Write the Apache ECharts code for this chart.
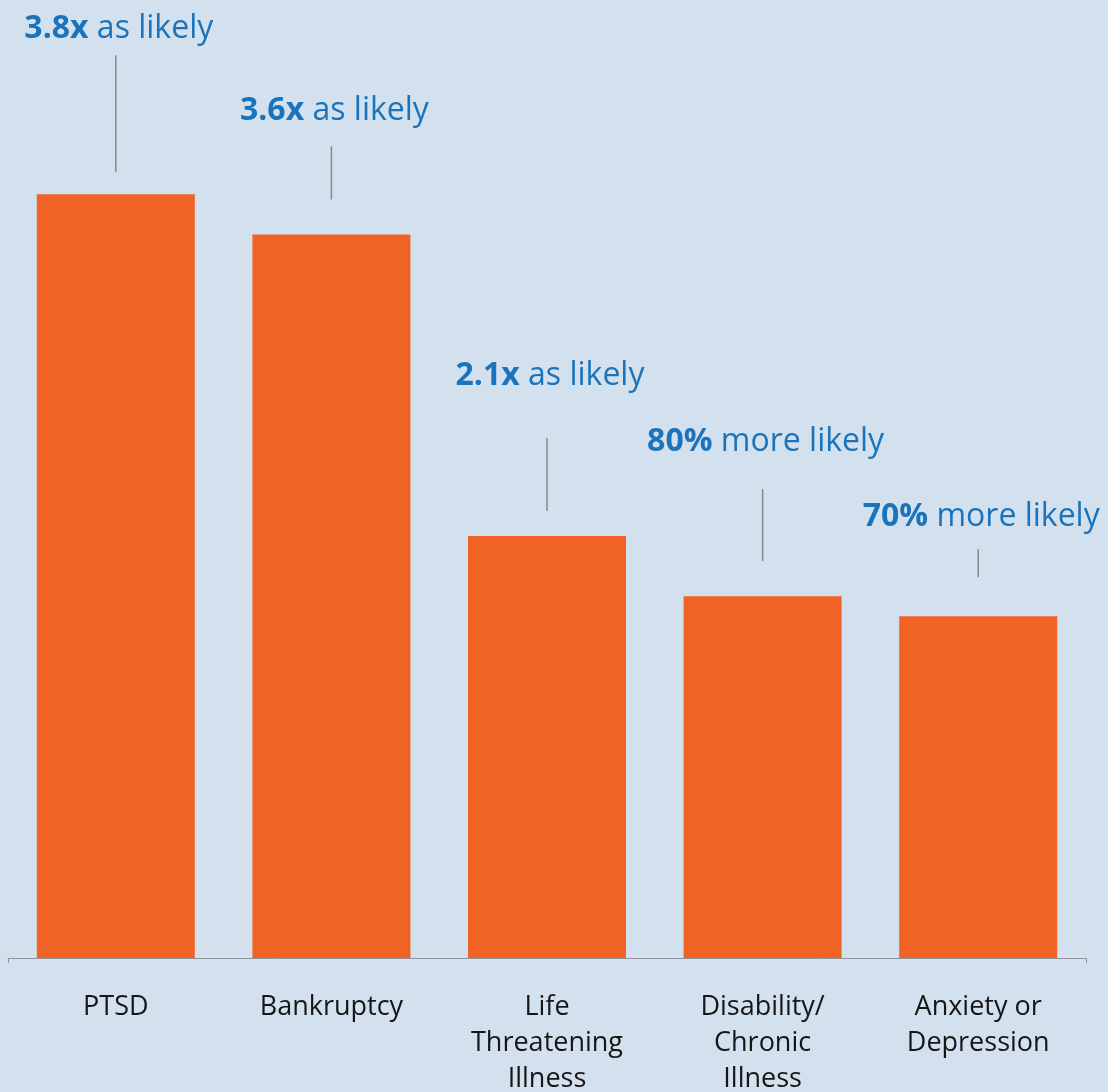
<!DOCTYPE html>
<html>
<head>
<meta charset="utf-8">
<script src="https://cdn.jsdelivr.net/npm/echarts@6/dist/echarts.min.js"></script>
<style>
  html, body { margin: 0; padding: 0; background: #d3e1ee; }
  #chart { width: 1108px; height: 1092px; }
</style>
</head>
<body>
<div id="chart"></div>
<script>
// Outcome categories and how much more likely each is (relative multiplier)
const categories = ['PTSD', 'Bankruptcy', 'Life\nThreatening\nIllness', 'Disability/\nChronic\nIllness', 'Anxiety or\nDepression'];
const multipliers = [3.8, 3.6, 2.1, 1.8, 1.7];

// Callout text: emphasised figure + phrase
const calloutFigure = ['3.8x', '3.6x', '2.1x', '80%', '70%'];
const calloutPhrase = ['as likely', 'as likely', 'as likely', 'more likely', 'more likely'];

// Callout layout (pixels): gap above bar, leader length, text rise above leader
const leaderGap = [22, 35, 25, 35, 39];
const leaderLen = [117, 53, 73, 72, 28];
const textRise = [26, 36, 62, 47, 32];

const FONT = '"Open Sans", Lato, "Noto Sans", sans-serif';
const BLUE = '#1b74bb';

const chart = echarts.init(document.getElementById('chart'), null, { renderer: 'canvas' });

chart.setOption({
  backgroundColor: '#d3e1ee',
  animation: false,
  grid: { left: 8, right: 22, top: 154, bottom: 134, containLabel: false, outerBoundsMode: 'none' },
  xAxis: {
    type: 'category',
    data: categories,
    boundaryGap: true,
    axisLine: { show: true, lineStyle: { color: '#8f959b', width: 1 } },
    axisTick: { show: true, length: 5, interval: function (i) { return i === 0; }, lineStyle: { color: '#8f959b' } },
    axisLabel: {
      interval: 0,
      margin: 31,
      fontFamily: FONT,
      fontSize: 27,
      lineHeight: 36,
      color: '#161616'
    }
  },
  yAxis: {
    type: 'value',
    min: 0,
    max: 4,
    show: false,
    splitLine: { show: false }
  },
  series: [
    {
      type: 'bar',
      data: multipliers,
      barWidth: 158,
      itemStyle: { color: '#f06325' },
      z: 2
    },
    {
      type: 'custom',
      data: multipliers.map(function (v, i) { return [i, v]; }),
      z: 3,
      renderItem: function (params, api) {
        const i = params.dataIndex;
        const pt = api.coord([api.value(0), api.value(1)]);
        const x = pt[0] + 3;
        const yBottom = pt[1] - leaderGap[i];
        const yTop = yBottom - leaderLen[i];
        return {
          type: 'group',
          children: [
            {
              type: 'line',
              shape: { x1: pt[0], y1: yTop, x2: pt[0], y2: yBottom },
              style: { stroke: '#85898d', lineWidth: 1.5 }
            },
            {
              type: 'text',
              x: x,
              y: yTop - textRise[i],
              style: {
                text: '{f|' + calloutFigure[i] + '} {p|' + calloutPhrase[i] + '}',
                align: 'center',
                verticalAlign: 'middle',
                fontFamily: FONT,
                fontSize: 32,
                fill: BLUE,
                rich: {
                  f: { fontFamily: FONT, fontSize: 32, fontWeight: 'bold', fill: BLUE, color: BLUE },
                  p: { fontFamily: FONT, fontSize: 32, fontWeight: 'normal', fill: BLUE, color: BLUE }
                }
              }
            }
          ]
        };
      }
    }
  ]
});
</script>
</body>
</html>
